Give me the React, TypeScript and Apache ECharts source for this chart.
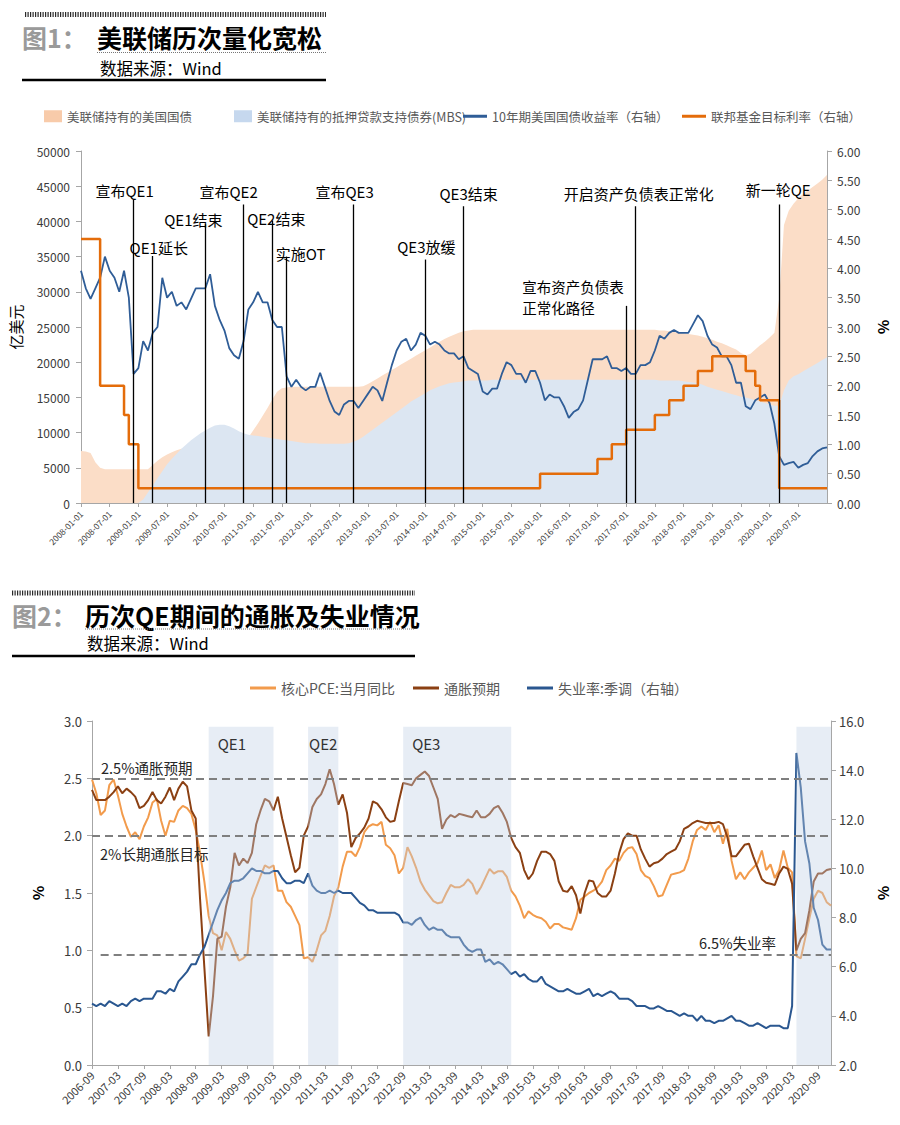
import React, { useEffect, useRef } from 'react';
import * as echarts from 'echarts';

// ---------------- DATA: Figure 1 ----------------
function monthList(y0: number, m0: number, count: number, withDay: boolean): string[] {
  const out: string[] = [];
  let y = y0, m = m0;
  for (let i = 0; i < count; i++) {
    const mm = m < 10 ? '0' + m : '' + m;
    out.push(withDay ? `${y}-${mm}-01` : `${y}-${mm}`);
    m++;
    if (m > 12) { m = 1; y++; }
  }
  return out;
}

const fig1Months = monthList(2008, 1, 157, true); // 2008-01-01 .. 2021-01-01

const fig1SeriesNames = [
  '美联储持有的美国国债',
  '美联储持有的抵押贷款支持债券(MBS)',
  '10年期美国国债收益率（右轴）',
  '联邦基金目标利率（右轴）',
];

// 亿美元
const treasury = [
  7400, 7300, 7100, 5800, 5000, 4800, 4800, 4800, 4800, 4800,
  4800, 4800, 4800, 4800, 4800, 5400, 6000, 6500, 6900, 7200,
  7500, 7700, 7700, 7700, 7750, 7750, 7750, 7750, 7750, 7750,
  7800, 7900, 8100, 8300, 8500, 9300, 10300, 11300, 12400, 13500,
  14700, 15800, 16300, 16400, 16500, 16500, 16500, 16500, 16500, 16500,
  16500, 16500, 16500, 16500, 16500, 16500, 16500, 16500, 16500, 16600,
  16900, 17300, 17700, 18100, 18500, 18900, 19300, 19700, 20100, 20500,
  20900, 21300, 21700, 22100, 22500, 22900, 23300, 23600, 23900, 24200,
  24400, 24500, 24600, 24600, 24600, 24600, 24600, 24600, 24600, 24600,
  24600, 24600, 24600, 24600, 24600, 24600, 24600, 24600, 24600, 24600,
  24600, 24600, 24600, 24600, 24600, 24600, 24600, 24600, 24600, 24600,
  24600, 24600, 24600, 24600, 24600, 24600, 24600, 24600, 24600, 24600,
  24600, 24500, 24500, 24400, 24300, 24200, 24100, 24000, 23900, 23800,
  23600, 23400, 23200, 22900, 22700, 22400, 22100, 21800, 21300, 21000,
  21200, 21800, 22400, 22900, 23500, 24200, 29000, 39500, 41500, 42500,
  43300, 43900, 44400, 44900, 45400, 45900, 46600,
];

const mbs = [
  0, 0, 0, 0, 0, 0, 0, 0, 0, 0,
  0, 0, 0, 500, 1500, 2500, 3500, 4500, 5500, 6300,
  7000, 7700, 8300, 8900, 9400, 9900, 10300, 10700, 11000, 11100,
  11100, 10900, 10600, 10200, 9900, 9700, 9600, 9500, 9400, 9300,
  9200, 9100, 9000, 8900, 8800, 8700, 8600, 8500, 8500, 8500,
  8400, 8400, 8400, 8400, 8400, 8400, 8500, 8700, 9000, 9400,
  9900, 10400, 10900, 11400, 11900, 12400, 12900, 13400, 13900, 14400,
  14800, 15200, 15600, 16000, 16300, 16600, 16800, 17000, 17100, 17200,
  17300, 17400, 17400, 17400, 17400, 17400, 17500, 17500, 17500, 17500,
  17500, 17500, 17500, 17500, 17500, 17500, 17500, 17500, 17500, 17500,
  17500, 17500, 17500, 17500, 17500, 17500, 17500, 17500, 17500, 17500,
  17500, 17500, 17500, 17500, 17500, 17500, 17500, 17500, 17500, 17500,
  17500, 17400, 17400, 17400, 17400, 17400, 17300, 17200, 17100, 17000,
  16800, 16500, 16300, 16100, 15900, 15700, 15500, 15300, 15100, 15000,
  14800, 14600, 14400, 14200, 14000, 13800, 13800, 16000, 17400, 18000,
  18300, 18700, 19100, 19500, 19900, 20300, 20700,
];

// %
const yield10 = [
  3.96, 3.66, 3.48, 3.66, 3.84, 4.2, 3.96, 3.84, 3.6, 3.96,
  3.5, 2.2, 2.3, 2.76, 2.6, 2.9, 3.0, 3.84, 3.5, 3.6,
  3.36, 3.42, 3.3, 3.48, 3.66, 3.66, 3.66, 3.9, 3.36, 3.12,
  2.94, 2.64, 2.52, 2.46, 2.76, 3.3, 3.42, 3.6, 3.42, 3.42,
  3.12, 3.0, 3.0, 2.16, 1.98, 2.1, 1.98, 1.92, 1.98, 1.98,
  2.22, 1.98, 1.74, 1.56, 1.5, 1.68, 1.74, 1.74, 1.62, 1.74,
  1.86, 1.98, 1.92, 1.74, 2.05, 2.35, 2.6, 2.75, 2.8, 2.6,
  2.7, 2.9, 2.85, 2.7, 2.75, 2.7, 2.6, 2.55, 2.55, 2.45,
  2.5, 2.3, 2.25, 2.2, 1.9, 1.85, 1.95, 1.95, 2.2, 2.4,
  2.35, 2.2, 2.2, 2.05, 2.25, 2.25, 2.05, 1.75, 1.85, 1.8,
  1.8, 1.65, 1.45, 1.55, 1.6, 1.75, 2.1, 2.45, 2.45, 2.45,
  2.5, 2.3, 2.3, 2.25, 2.3, 2.2, 2.2, 2.35, 2.35, 2.4,
  2.6, 2.85, 2.8, 2.9, 2.95, 2.9, 2.9, 2.9, 3.05, 3.2,
  3.1, 2.85, 2.7, 2.65, 2.5, 2.5, 2.35, 2.05, 2.05, 1.65,
  1.6, 1.75, 1.8, 1.85, 1.7, 1.35, 0.8, 0.65, 0.68, 0.7,
  0.6, 0.65, 0.68, 0.8, 0.88, 0.93, 0.95,
];

// Fed funds target: change dates and new rates (step function)
const fedChangeDates = [
  '2008-01-01', '2008-05-01', '2008-10-01', '2008-11-01', '2009-01-01',
  '2016-01-01', '2017-01-01', '2017-04-01', '2017-07-01', '2018-01-01',
  '2018-04-01', '2018-07-01', '2018-10-01', '2019-01-01', '2019-08-01',
  '2019-10-01', '2019-11-01', '2020-03-01', '2021-01-01',
];
const fedRates = [
  4.5, 2.0, 1.5, 1.0, 0.25,
  0.5, 0.75, 1.0, 1.25, 1.5,
  1.75, 2.0, 2.25, 2.5, 2.25,
  2.0, 1.75, 0.25, 0.25,
];

const eventLabels = [
  '宣布QE1', 'QE1延长', 'QE1结束', '宣布QE2', 'QE2结束', '实施OT',
  '宣布QE3', 'QE3放缓', 'QE3结束', '宣布资产负债表|正常化路径', '开启资产负债表正常化', '新一轮QE',
];
const eventDates = [
  '2008-12-01', '2009-04-01', '2010-03-01', '2010-11-01', '2011-05-01', '2011-08-01',
  '2012-10-01', '2014-01-01', '2014-09-01', '2017-07-01', '2017-09-01', '2020-03-01',
];

// ---------------- DATA: Figure 2 ----------------
const fig2Months = monthList(2006, 9, 172, false); // 2006-09 .. 2020-12
const fig2SeriesNames = ['核心PCE:当月同比', '通胀预期', '失业率:季调（右轴）'];

const corePCE = [
  2.49, 2.37, 2.18, 2.22, 2.44, 2.49, 2.35, 2.19, 2.08, 1.99,
  2.03, 1.97, 2.08, 2.16, 2.29, 2.32, 2.13, 2.0, 2.13, 2.12,
  2.22, 2.26, 2.24, 2.19, 2.05, 1.85, 1.6, 1.3, 1.15, 1.13,
  1.0, 1.16, 1.1, 1.0, 0.91, 0.93, 0.97, 1.45, 1.55, 1.65,
  1.74, 1.72, 1.74, 1.52, 1.52, 1.42, 1.38, 1.3, 1.22, 0.93,
  0.94, 0.9, 1.0, 1.13, 1.17, 1.3, 1.47, 1.55, 1.73, 1.86,
  1.86, 1.82, 1.9, 2.03, 2.08, 2.1, 2.09, 2.12, 1.92, 1.89,
  1.83, 1.67, 1.72, 1.9, 1.82, 1.72, 1.6, 1.53, 1.48, 1.43,
  1.41, 1.42, 1.5, 1.57, 1.55, 1.55, 1.57, 1.62, 1.58, 1.49,
  1.55, 1.63, 1.71, 1.67, 1.69, 1.69, 1.64, 1.52, 1.47, 1.39,
  1.28, 1.34, 1.31, 1.29, 1.28, 1.25, 1.19, 1.23, 1.23, 1.2,
  1.19, 1.18, 1.28, 1.44, 1.47, 1.5, 1.52, 1.55, 1.6, 1.7,
  1.74, 1.8, 1.78, 1.85, 1.89, 1.9, 1.84, 1.7, 1.65, 1.63,
  1.56, 1.47, 1.48, 1.57, 1.66, 1.67, 1.68, 1.7, 1.8, 1.95,
  2.05, 2.08, 2.05, 2.12, 2.03, 2.09, 1.93, 2.06, 1.78, 1.62,
  1.68, 1.62, 1.68, 1.72, 1.76, 1.87, 1.7, 1.75, 1.63, 1.7,
  1.87, 1.72, 1.68, 0.95, 0.93, 1.1, 1.28, 1.45, 1.52, 1.5, 1.42, 1.39,
];

const inflationExp = [
  2.40, 2.31, 2.31, 2.31, 2.34, 2.38, 2.43, 2.37, 2.41, 2.38,
  2.34, 2.24, 2.26, 2.31, 2.38, 2.31, 2.28, 2.34, 2.42, 2.31,
  2.41, 2.47, 2.43, 2.22, 2.15, 1.45, 0.85, 0.25, 0.6, 1.1,
  1.12, 1.38, 1.55, 1.85, 1.74, 1.8, 1.76, 1.85, 2.1, 2.22,
  2.32, 2.3, 2.22, 2.34, 2.15, 1.99, 1.83, 1.68, 1.72, 2.0,
  2.08, 2.25, 2.32, 2.36, 2.45, 2.58, 2.45, 2.27, 2.36, 2.2,
  1.9, 1.98, 2.02, 2.07, 2.15, 2.3, 2.28, 2.23, 2.16, 2.12,
  2.13, 2.3, 2.46, 2.45, 2.44, 2.5, 2.53, 2.56, 2.52, 2.42,
  2.32, 2.06, 2.14, 2.18, 2.16, 2.19, 2.18, 2.17, 2.16, 2.22,
  2.16, 2.16, 2.19, 2.24, 2.26, 2.2, 2.12, 1.98, 1.9, 1.85,
  1.7, 1.62, 1.67, 1.78, 1.86, 1.86, 1.84, 1.78, 1.6, 1.52,
  1.51, 1.56, 1.48, 1.32, 1.5, 1.61, 1.6, 1.5, 1.47, 1.47,
  1.52, 1.67, 1.85, 1.97, 2.02, 2.0, 2.0, 1.88, 1.8, 1.73,
  1.76, 1.77, 1.8, 1.84, 1.86, 1.88, 1.95, 2.06, 2.08, 2.11,
  2.13, 2.12, 2.11, 2.11, 2.11, 2.12, 2.1, 1.99, 1.82, 1.82,
  1.87, 1.92, 1.93, 1.82, 1.72, 1.62, 1.59, 1.58, 1.57, 1.67,
  1.73, 1.71, 1.58, 1.0, 1.1, 1.15, 1.35, 1.6, 1.67, 1.67, 1.7, 1.71,
];

const unemployment = [
  4.5, 4.4, 4.5, 4.4,
  4.6, 4.5, 4.4, 4.5, 4.4, 4.6, 4.7, 4.6, 4.7, 4.7, 4.7, 5.0,
  5.0, 4.9, 5.1, 5.0, 5.4, 5.6, 5.8, 6.1, 6.1, 6.5, 6.8, 7.3,
  7.8, 8.3, 8.7, 9.0, 9.4, 9.5, 9.5, 9.6, 9.8, 10.0, 9.9, 9.9,
  9.8, 9.8, 9.9, 9.9, 9.6, 9.4, 9.4, 9.5, 9.5, 9.4, 9.8, 9.3,
  9.1, 9.0, 9.0, 9.1, 9.0, 9.1, 9.0, 9.0, 9.0, 8.8, 8.6, 8.5,
  8.3, 8.3, 8.2, 8.2, 8.2, 8.2, 8.2, 8.1, 7.8, 7.8, 7.7, 7.9,
  8.0, 7.7, 7.5, 7.6, 7.5, 7.5, 7.3, 7.2, 7.2, 7.2, 6.9, 6.7,
  6.6, 6.7, 6.7, 6.2, 6.3, 6.1, 6.2, 6.1, 5.9, 5.7, 5.8, 5.6,
  5.7, 5.5, 5.4, 5.4, 5.6, 5.3, 5.2, 5.1, 5.0, 5.0, 5.1, 5.0,
  4.9, 4.9, 5.0, 5.1, 4.8, 4.9, 4.8, 4.9, 5.0, 4.9, 4.7, 4.7,
  4.7, 4.6, 4.4, 4.4, 4.4, 4.3, 4.3, 4.4, 4.3, 4.2, 4.2, 4.1,
  4.0, 4.1, 4.0, 4.0, 3.8, 4.0, 3.8, 3.8, 3.7, 3.8, 3.8, 3.9,
  4.0, 3.8, 3.8, 3.7, 3.6, 3.6, 3.7, 3.6, 3.5, 3.6, 3.6, 3.6,
  3.5, 3.5, 4.4, 14.7, 13.3, 11.1, 10.2, 8.4, 7.9, 6.9, 6.7, 6.7,
];

// QE periods (start month, end month) on figure 2
const qeStarts = ['2008-12', '2010-11', '2012-09', '2020-04'];
const qeEnds = ['2010-03', '2011-06', '2014-10', '2020-12'];
const qeNames = ['QE1', 'QE2', 'QE3', ''];

const refLevels = [2.5, 2.0]; // left axis reference lines
const refLevelLabels = ['2.5%通胀预期', '2%长期通胀目标'];
const unempRef = 6.5;
const unempRefLabel = '6.5%失业率';

// ---------------- STYLE ----------------
const FONT = '"Noto Sans CJK SC", "Noto Sans", sans-serif';
const AXIS_GRAY = '#A6A6A6';
const LABEL = '#3A3A3A';
const C_TREAS = '#FBDDC7';
const C_TREAS_ICON = '#F8CBAA';
const C_MBS = '#DCE6F2';
const C_MBS_ICON = '#C6D8EE';
const C_YIELD = '#2F5D97';
const C_FED = '#E46C0A';
const C_PCE = '#F29B4C';
const C_EXP = '#8B4013';
const C_UNEMP = '#2A5790';

const everySix1 = (i: number) => i % 6 === 0 && i < 156;
const everySix2 = (i: number) => i % 6 === 0 && i <= 168;

function buildOption(): any {
  const fedData = fedChangeDates.map((d, i) => [d, fedRates[i]]);
  const eventTops = [5.17, 4.21, 4.75, 5.09, 4.81, 4.2, 5.09, 4.15, 5.06, 3.36, 5.06, 5.09];
  const eventLines = eventDates.map((d, i) => [
    { coord: [d, eventTops[i]] },
    { coord: [d, 0] },
  ]);
  const qeData = qeStarts.map((s, i) => [fig2Months.indexOf(s), fig2Months.indexOf(qeEnds[i])]);

  const legendText = (size: number) => ({ fontSize: size, color: '#595959', fontFamily: FONT });
  const mkLegend = (name: string, left: number, top: number, w: number, h: number, size: number) => ({
    left, top, orient: 'horizontal', selectedMode: false, itemWidth: w, itemHeight: h, itemGap: 0,
    data: [{ name, icon: 'rect' }], textStyle: legendText(size), padding: 0,
  });

  return {
    animation: false,
    backgroundColor: '#ffffff',
    textStyle: { fontFamily: FONT },
    grid: [
      { left: 73, top: 151, width: 759, height: 352 },
      { left: 92, top: 721, width: 746, height: 344 },
    ],
    legend: [
      mkLegend(fig1SeriesNames[0], 44, 110, 18, 12, 12.5),
      mkLegend(fig1SeriesNames[1], 234, 110, 18, 12, 12.5),
      mkLegend(fig1SeriesNames[2], 463, 110, 24, 3, 12.5),
      mkLegend(fig1SeriesNames[3], 682, 110, 24, 3, 12.5),
      mkLegend(fig2SeriesNames[0], 250, 681, 26, 3, 14),
      mkLegend(fig2SeriesNames[1], 413, 681, 26, 3, 14),
      mkLegend(fig2SeriesNames[2], 527, 681, 26, 3, 14),
    ],
    xAxis: [
      {
        gridIndex: 0, type: 'category', data: fig1Months, boundaryGap: false,
        axisLine: { show: true, lineStyle: { color: AXIS_GRAY } },
        axisTick: { show: true, interval: everySix1, length: 4, lineStyle: { color: AXIS_GRAY } },
        axisLabel: { interval: everySix1, rotate: 45, fontSize: 8.5, color: LABEL, margin: 9 },
        splitLine: { show: false },
      },
      {
        gridIndex: 1, type: 'category', data: fig2Months, boundaryGap: false,
        axisLine: { show: true, lineStyle: { color: AXIS_GRAY } },
        axisTick: { show: true, interval: everySix2, length: 4, lineStyle: { color: AXIS_GRAY } },
        axisLabel: { interval: everySix2, rotate: 45, fontSize: 11, color: LABEL, margin: 8 },
        splitLine: { show: false },
      },
    ],
    yAxis: [
      {
        gridIndex: 0, type: 'value', position: 'left', min: 0, max: 50000, interval: 5000,
        name: '亿美元', nameLocation: 'middle', nameGap: 58, nameRotate: 90,
        nameTextStyle: { fontSize: 15, color: '#000' },
        axisLine: { show: true, lineStyle: { color: AXIS_GRAY } },
        axisTick: { show: true, length: 5, lineStyle: { color: AXIS_GRAY } },
        axisLabel: { fontSize: 12, color: LABEL, margin: 11, formatter: (v: number) => String(v) },
        splitLine: { show: false },
      },
      {
        gridIndex: 0, type: 'value', position: 'right', min: 0, max: 6, interval: 0.5,
        name: '%', nameLocation: 'middle', nameGap: 50, nameRotate: -90,
        nameTextStyle: { fontSize: 15, color: '#000', fontWeight: 'bold' },
        axisLine: { show: true, lineStyle: { color: AXIS_GRAY } },
        axisTick: { show: true, length: 5, lineStyle: { color: AXIS_GRAY } },
        axisLabel: { fontSize: 12, color: LABEL, margin: 10, formatter: (v: number) => v.toFixed(2) },
        splitLine: { show: false },
      },
      {
        gridIndex: 1, type: 'value', position: 'left', min: 0, max: 3, interval: 0.5,
        name: '%', nameLocation: 'middle', nameGap: 47, nameRotate: 90,
        nameTextStyle: { fontSize: 15, color: '#000', fontWeight: 'bold' },
        axisLine: { show: true, lineStyle: { color: AXIS_GRAY } },
        axisTick: { show: true, length: 5, lineStyle: { color: AXIS_GRAY } },
        axisLabel: { fontSize: 13, color: LABEL, margin: 10, formatter: (v: number) => v.toFixed(1) },
        splitLine: { show: false },
      },
      {
        gridIndex: 1, type: 'value', position: 'right', min: 2, max: 16, interval: 2,
        name: '%', nameLocation: 'middle', nameGap: 46, nameRotate: -90,
        nameTextStyle: { fontSize: 15, color: '#000', fontWeight: 'bold' },
        axisLine: { show: true, lineStyle: { color: AXIS_GRAY } },
        axisTick: { show: true, length: 5, lineStyle: { color: AXIS_GRAY } },
        axisLabel: { fontSize: 13, color: LABEL, margin: 8, formatter: (v: number) => v.toFixed(1) },
        splitLine: { show: false },
      },
    ],
    series: [
      {
        name: fig1SeriesNames[0], type: 'line', xAxisIndex: 0, yAxisIndex: 0, data: treasury,
        symbol: 'none', color: C_TREAS_ICON, itemStyle: { color: C_TREAS_ICON },
        lineStyle: { width: 0 }, areaStyle: { color: C_TREAS, opacity: 1 }, z: 1, silent: true,
      },
      {
        name: fig1SeriesNames[1], type: 'line', xAxisIndex: 0, yAxisIndex: 0, data: mbs,
        symbol: 'none', color: C_MBS_ICON, itemStyle: { color: C_MBS_ICON },
        lineStyle: { width: 0 }, areaStyle: { color: C_MBS, opacity: 1 }, z: 1, silent: true,
      },
      {
        name: fig1SeriesNames[2], type: 'line', xAxisIndex: 0, yAxisIndex: 1, data: yield10,
        symbol: 'none', color: C_YIELD, itemStyle: { color: C_YIELD },
        lineStyle: { width: 1.8, color: C_YIELD }, z: 3, silent: true,
      },
      {
        name: fig1SeriesNames[3], type: 'line', xAxisIndex: 0, yAxisIndex: 1, data: fedData, step: 'end',
        symbol: 'none', color: C_FED, itemStyle: { color: C_FED },
        lineStyle: { width: 2.5, color: C_FED }, z: 4, silent: true,
        markLine: {
          silent: true, symbol: ['none', 'none'], animation: false,
          label: { show: false },
          lineStyle: { color: '#000', width: 1.3, type: 'solid' },
          emphasis: { disabled: true },
          data: eventLines,
        },
      },
      {
        name: fig2SeriesNames[0], type: 'line', xAxisIndex: 1, yAxisIndex: 2, data: corePCE,
        symbol: 'none', color: C_PCE, itemStyle: { color: C_PCE },
        lineStyle: { width: 2, color: C_PCE }, z: 2, silent: true,
        markLine: {
          silent: true, symbol: ['none', 'none'], animation: false,
          label: { show: false },
          lineStyle: { color: '#7F7F7F', width: 2, type: [8, 5] },
          data: refLevels.map((v) => ({ yAxis: v })),
        },
      },
      {
        name: fig2SeriesNames[1], type: 'line', xAxisIndex: 1, yAxisIndex: 2, data: inflationExp,
        symbol: 'none', color: C_EXP, itemStyle: { color: C_EXP },
        lineStyle: { width: 2, color: C_EXP }, z: 2, silent: true,
      },
      {
        name: fig2SeriesNames[2], type: 'line', xAxisIndex: 1, yAxisIndex: 3, data: unemployment,
        symbol: 'none', color: C_UNEMP, itemStyle: { color: C_UNEMP },
        lineStyle: { width: 2, color: C_UNEMP }, z: 2, silent: true,
        markLine: {
          silent: true, symbol: ['none', 'none'], animation: false,
          label: { show: false },
          lineStyle: { color: '#7F7F7F', width: 2, type: [8, 5] },
          data: [[{ coord: [fig2Months[2], unempRef] }, { coord: [fig2Months[171], unempRef] }]],
        },
      },
      {
        type: 'custom', xAxisIndex: 1, yAxisIndex: 2, data: qeData, z: 4, silent: true,
        renderItem: (params: any, api: any) => {
          const a = api.coord([api.value(0), 2.95]);
          const b = api.coord([api.value(1), 0]);
          return {
            type: 'rect',
            shape: { x: a[0], y: a[1], width: b[0] - a[0], height: b[1] - a[1] },
            style: { fill: 'rgba(192,207,229,0.38)' },
          };
        },
      },
    ],
  };
}

function header(els: any[], cfg: any) {
  els.push({
    type: 'line', z: 100, silent: true,
    shape: { x1: cfg.stripeX1, y1: cfg.stripeY, x2: cfg.x2, y2: cfg.stripeY },
    style: { stroke: '#2a2a2a', lineWidth: 5, lineDash: [1.2, 1.3] },
  });
  els.push({
    type: 'text', z: 100, silent: true, x: cfg.tagX, y: cfg.titleY,
    style: { text: cfg.tag, fontSize: 25, fontWeight: 'bold', fontFamily: FONT, fill: '#9A9A9A', align: 'left', verticalAlign: 'middle' },
  });
  els.push({
    type: 'text', z: 100, silent: true, x: cfg.titleX, y: cfg.titleY,
    style: { text: cfg.title, fontSize: 25, fontWeight: 'bold', fontFamily: FONT, fill: '#000', align: 'left', verticalAlign: 'middle' },
  });
  els.push({
    type: 'line', z: 100, silent: true,
    shape: { x1: cfg.titleX, y1: cfg.dotY, x2: cfg.x2, y2: cfg.dotY },
    style: { stroke: '#777', lineWidth: 1, lineDash: [1, 1] },
  });
  els.push({
    type: 'text', z: 100, silent: true, x: cfg.srcX, y: cfg.srcY,
    style: { text: '数据来源：Wind', fontSize: 16.5, fontFamily: FONT, fill: '#000', align: 'left', verticalAlign: 'middle' },
  });
  els.push({
    type: 'line', z: 100, silent: true,
    shape: { x1: cfg.thickX1, y1: cfg.thickY, x2: cfg.x2, y2: cfg.thickY },
    style: { stroke: '#000', lineWidth: 2.5 },
  });
}

function buildGraphics(chart: any): any[] {
  const els: any[] = [];
  header(els, {
    stripeX1: 25, stripeY: 14.5, x2: 326, tag: '图1：', tagX: 22, title: '美联储历次量化宽松', titleX: 97,
    titleY: 37, dotY: 52.5, srcX: 100, srcY: 68, thickX1: 22, thickY: 80,
  });
  header(els, {
    stripeX1: 12, stripeY: 593, x2: 415, tag: '图2：', tagX: 12, title: '历次QE期间的通胀及失业情况', titleX: 85,
    titleY: 615, dotY: 629, srcX: 87, srcY: 643, thickX1: 12, thickY: 656,
  });

  // figure 1 event labels
  const eventTops = [5.17, 4.21, 4.75, 5.09, 4.81, 4.2, 5.09, 4.15, 5.06, 3.36, 5.06, 5.09];
  const offs: number[][] = [
    [-9, -9], [6, -9], [-12, -5], [-15, -13], [4, -2], [14, -3],
    [-9, -13], [1, -13], [5, -13], [0, 0], [3, -13], [-1, -15],
  ];
  eventLabels.forEach((lab, i) => {
    const idx = fig1Months.indexOf(eventDates[i]);
    const p = chart.convertToPixel({ xAxisIndex: 0, yAxisIndex: 1 }, [idx, eventTops[i]]);
    if (!p) return;
    if (lab.indexOf('|') >= 0) {
      const parts = lab.split('|');
      parts.forEach((t, k) => {
        els.push({
          type: 'text', z: 100, silent: true, x: p[0] - 104, y: p[1] - 19 + k * 21,
          style: { text: t, fontSize: 14.5, fontFamily: FONT, fill: '#000', align: 'left', verticalAlign: 'middle' },
        });
      });
    } else {
      els.push({
        type: 'text', z: 100, silent: true, x: p[0] + offs[i][0], y: p[1] + offs[i][1],
        style: { text: lab, fontSize: 15, fontFamily: FONT, fill: '#000', align: 'center', verticalAlign: 'middle' },
      });
    }
  });

  // figure 2 QE labels
  qeNames.forEach((nm, i) => {
    if (!nm) return;
    const s = chart.convertToPixel({ xAxisIndex: 1, yAxisIndex: 2 }, [fig2Months.indexOf(qeStarts[i]), 2.95]);
    const e = chart.convertToPixel({ xAxisIndex: 1, yAxisIndex: 2 }, [fig2Months.indexOf(qeEnds[i]), 2.95]);
    if (!s || !e) return;
    const centered = e[0] - s[0] < 40;
    els.push({
      type: 'text', z: 100, silent: true, x: centered ? (s[0] + e[0]) / 2 : s[0] + 9, y: s[1] + 17,
      style: { text: nm, fontSize: 15, fontFamily: FONT, fill: '#333', align: centered ? 'center' : 'left', verticalAlign: 'middle' },
    });
  });

  // reference line labels
  const r0 = chart.convertToPixel({ xAxisIndex: 1, yAxisIndex: 2 }, [0, refLevels[0]]);
  const r1 = chart.convertToPixel({ xAxisIndex: 1, yAxisIndex: 2 }, [0, refLevels[1]]);
  if (r0) els.push({
    type: 'text', z: 100, silent: true, x: r0[0] + 9, y: r0[1] - 11,
    style: { text: refLevelLabels[0], fontSize: 14.5, fontFamily: FONT, fill: '#262626', align: 'left', verticalAlign: 'middle' },
  });
  if (r1) els.push({
    type: 'text', z: 100, silent: true, x: r1[0] + 8, y: r1[1] + 18,
    style: { text: refLevelLabels[1], fontSize: 14.5, fontFamily: FONT, fill: '#262626', align: 'left', verticalAlign: 'middle' },
  });
  const u = chart.convertToPixel({ xAxisIndex: 1, yAxisIndex: 3 }, [171, unempRef]);
  if (u) els.push({
    type: 'text', z: 100, silent: true, x: u[0] - 55, y: u[1] - 12,
    style: { text: unempRefLabel, fontSize: 14.5, fontFamily: FONT, fill: '#262626', align: 'right', verticalAlign: 'middle' },
  });
  return els;
}

export default function App() {
  const ref = useRef<HTMLDivElement>(null);
  useEffect(() => {
    if (!ref.current) return;
    const chart = echarts.init(ref.current, null, { renderer: 'svg' });
    chart.setOption(buildOption());
    chart.setOption({ graphic: { elements: buildGraphics(chart) } });
    return () => chart.dispose();
  }, []);
  return (
    <div
      ref={ref}
      style={{ position: 'absolute', left: 0, top: 0, width: 900, height: 1125, background: '#fff' }}
    />
  );
}
